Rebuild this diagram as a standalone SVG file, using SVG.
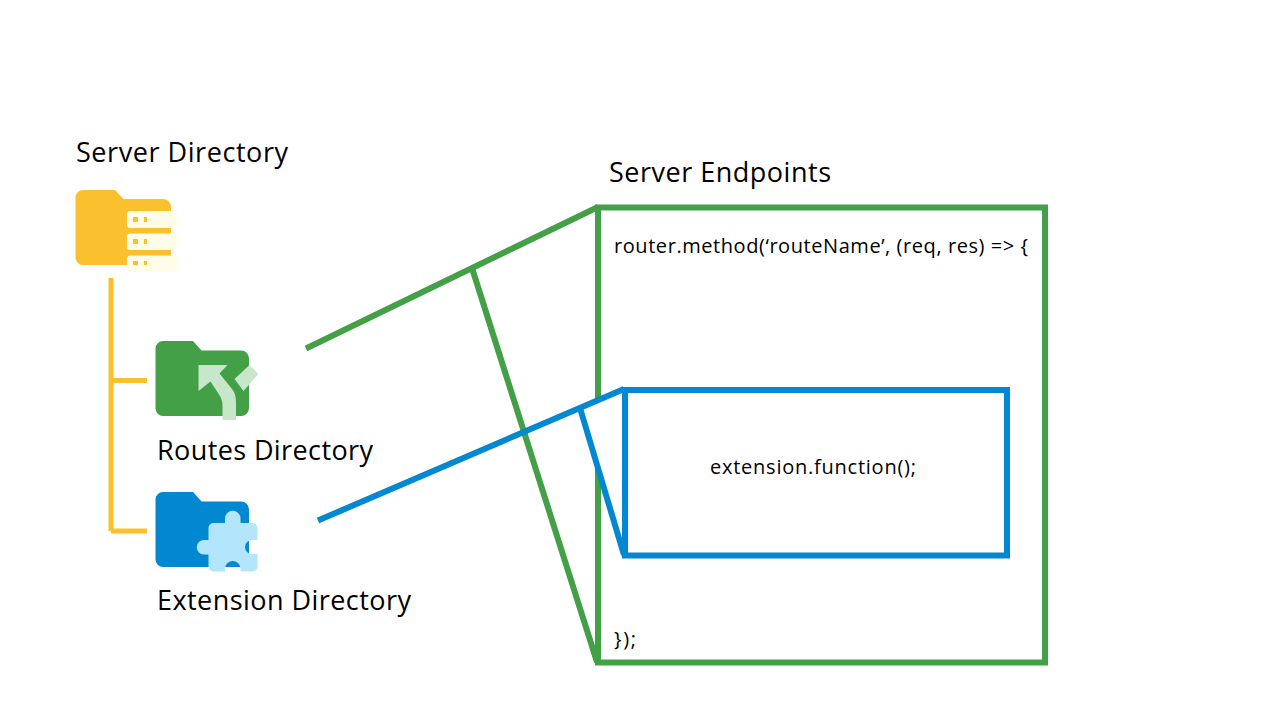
<svg xmlns="http://www.w3.org/2000/svg" width="1280" height="720" viewBox="0 0 1280 720">
<style>
text{font-family:"Open Sans","Noto Sans","Liberation Sans",sans-serif;fill:#000}
.h{font-size:27px}
.c{font-size:20px}
.l{fill:none;stroke-width:6}
.y{stroke:#fbc02d;stroke-width:5}.g{stroke:#43a047}.b{stroke:#0288d1}
.row{fill:#fffde7}
</style>
<rect width="1280" height="720" fill="#fff"/>
<g id="server-directory">
<path fill="#fbc02d" d="M83 190H115L123.500 199H163A8 8 0 0 1 171 207V258A7 7 0 0 1 164 265H83A7.500 7.500 0 0 1 75.500 257.500V197.500A7.500 7.500 0 0 1 83 190Z"/>
<rect class="row" x="127" y="211" width="50" height="17" rx="3"/>
<rect class="row" x="127" y="233.500" width="50" height="16.500" rx="3"/>
<rect class="row" x="127" y="255.500" width="50" height="16.500" rx="3"/>
<path fill="#fbc02d" d="M133 217h5v5h-5zM144 217h3v5h-3zM133 239h5v5h-5zM144 239h3v5h-3zM133 261h5v4h-5zM144 261h3v4h-3z"/>
<text class="h" x="76" y="162" textLength="212">Server Directory</text>
</g>
<g id="routes-directory">
<path fill="#43a047" d="M163 341H193L201.500 350.500H241A8 8 0 0 1 249 358.500V408A8 8 0 0 1 241 416H163A7.500 7.500 0 0 1 155.500 408.500V348.500A7.500 7.500 0 0 1 163 341Z"/>
<path fill="#c8e6c9" d="M198.500 365H227.500L219.500 373.500L232 389Q236 394 236 402V420H222.500V405Q222.500 399 218 393L210.500 381.500L198.500 391ZM234.500 379L249.500 365L258.500 374L243.500 391Z"/>
<text class="h" x="157" y="460" textLength="216">Routes Directory</text>
</g>
<g id="extension-directory">
<path fill="#0288d1" d="M163 492H193L201.500 501.500H241A8 8 0 0 1 249 509.500V559A8 8 0 0 1 241 567H163A7.500 7.500 0 0 1 155.500 559.500V499.500A7.500 7.500 0 0 1 163 492Z"/>
<path fill="#b3e5fc" d="M225 523V518.500A7.700 7.700 0 0 1 240.500 518.500V523H252.500A5 5 0 0 1 257.500 528V540H252A7 7 0 0 0 252 554H257.500V566.500A5 5 0 0 1 252.500 571.500H240.500V568A7.800 7.800 0 0 0 225 568V571.500H213.500A5 5 0 0 1 208.500 566.500V554.500H204A7 7 0 0 1 204 540H208.500V528A5 5 0 0 1 213.500 523Z"/>
<text class="h" x="157" y="610" textLength="254">Extension Directory</text>
</g>
<g id="server-endpoints">
<text class="h" x="609" y="182" textLength="222">Server Endpoints</text>
<rect class="l g" x="598" y="207.500" width="447" height="455"/>
<text class="c" x="614" y="253" textLength="414">router.method(‘routeName’, (req, res) =&gt; {</text>
<text class="c" x="614" y="646" textLength="22">});</text>
</g>
<g id="connectors">
<path class="l y" d="M111 278V531M111 380.500H147M111 531H147"/>
<path class="l g" d="M306 348.500L598 207M472 268L597 662"/>
<path fill="#fff" d="M580 408L624 389V555Z"/>
<path class="l b" d="M318 520.500L624 389M580 408L624 555"/>
</g>
<g id="extension-function">
<rect class="l b" x="625" y="390" width="382" height="165.500"/>
<text class="c" x="710" y="474" textLength="206">extension.function();</text>
</g>
</svg>
